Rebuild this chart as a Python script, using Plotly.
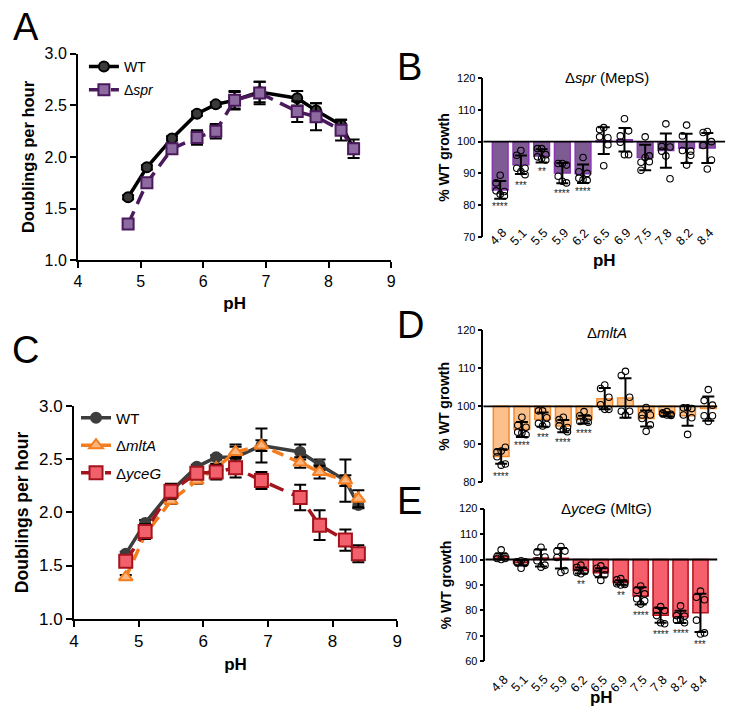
import plotly.graph_objects as go

W, H = 738, 725
FONT = "Arial, Liberation Sans, sans-serif"

PH = [4.8, 5.1, 5.5, 5.9, 6.2, 6.5, 6.9, 7.5, 7.8, 8.2, 8.4]
PH_LABELS = ["4.8", "5.1", "5.5", "5.9", "6.2", "6.5", "6.9", "7.5", "7.8", "8.2", "8.4"]

# panel A: doublings per hour
A_WT = [1.61, 1.90, 2.18, 2.42, 2.51, 2.55, 2.63, 2.57, 2.45, 2.31, 2.08]
A_WT_SD = [0.02, 0.02, 0.02, 0.02, 0.02, 0.08, 0.10, 0.07, 0.07, 0.05, 0.05]
A_SPR = [1.35, 1.75, 2.08, 2.19, 2.25, 2.55, 2.62, 2.44, 2.39, 2.26, 2.08]
A_SPR_SD = [0.03, 0.04, 0.03, 0.07, 0.07, 0.09, 0.11, 0.10, 0.13, 0.10, 0.09]

# panel C
C_WT = [1.61, 1.90, 2.20, 2.43, 2.52, 2.52, 2.63, 2.57, 2.45, 2.30, 2.07]
C_WT_SD = [0.02, 0.03, 0.03, 0.02, 0.02, 0.12, 0.16, 0.07, 0.05, 0.20, 0.03]
C_MLTA = [1.39, 1.79, 2.11, 2.30, 2.42, 2.57, 2.63, 2.47, 2.38, 2.30, 2.13]
C_MLTA_SD = [0.02, 0.03, 0.03, 0.03, 0.04, 0.05, 0.05, 0.05, 0.06, 0.05, 0.08]
C_YCEG = [1.54, 1.82, 2.20, 2.37, 2.38, 2.42, 2.30, 2.14, 1.88, 1.74, 1.61]
C_YCEG_SD = [0.03, 0.07, 0.07, 0.04, 0.07, 0.09, 0.08, 0.12, 0.14, 0.10, 0.08]

# panel B: % WT growth, delta spr
B_MEAN = [84.8, 92.7, 95.5, 90.1, 89.9, 100.3, 100.6, 95.0, 97.2, 97.9, 98.0]
B_SD = [2.8, 2.9, 2.1, 3.2, 2.9, 4.2, 3.7, 4.0, 5.4, 4.6, 4.7]
B_PTS = [
    [89.4, 87.0, 84.3, 84.5, 82.9, 83.4],
    [97.2, 95.7, 91.6, 91.6, 89.6, 90.6],
    [97.8, 97.8, 95.9, 95.2, 94.2, 94.7],
    [93.1, 93.1, 92.6, 89.1, 87.0, 87.5],
    [95.0, 90.5, 90.0, 88.5, 87.8, 88.0],
    [104.4, 103.8, 101.2, 101.5, 99.0, 92.4],
    [107.2, 101.8, 103.4, 99.8, 95.9, 95.9],
    [101.5, 93.5, 93.7, 91.0, 95.5, 95.0],
    [105.6, 98.5, 98.3, 97.0, 88.3, 95.5],
    [105.2, 101.8, 97.0, 97.2, 95.7, 92.6],
    [103.2, 102.9, 100.0, 98.8, 94.2, 91.4],
]
B_STARS = ["****", "***", "**", "****", "****", "", "", "", "", "", ""]

# panel D: delta mltA
D_MEAN = [86.8, 93.9, 96.5, 94.8, 96.5, 102.0, 102.2, 96.8, 97.9, 97.5, 99.4]
D_SD = [1.9, 2.0, 1.9, 1.6, 1.0, 2.8, 5.2, 2.1, 0.5, 2.6, 3.2]
D_PTS = [
    [88.2, 88.0, 89.2, 86.7, 84.8, 84.5],
    [97.1, 95.0, 94.5, 93.2, 92.5, 93.0],
    [98.8, 98.8, 97.0, 95.5, 95.2, 94.8],
    [97.1, 96.5, 94.4, 94.8, 93.3, 93.9],
    [98.6, 97.5, 96.9, 96.0, 95.8, 96.2],
    [105.6, 104.7, 102.4, 100.4, 99.2, 99.2],
    [109.2, 108.1, 102.4, 98.7, 98.7, 97.7],
    [99.7, 97.7, 97.7, 96.8, 95.1, 93.4],
    [98.6, 98.3, 97.9, 98.0, 97.6, 97.7],
    [99.6, 99.6, 99.4, 97.7, 97.0, 92.6],
    [104.4, 101.5, 100.3, 97.5, 97.5, 96.0],
]
D_STARS = ["****", "****", "***", "****", "****", "", "", "", "", "", ""]

# panel E: delta yceG
E_MEAN = [101.2, 98.7, 100.6, 100.5, 95.7, 94.8, 91.0, 85.7, 78.1, 77.5, 79.1]
E_SD = [1.2, 1.0, 3.3, 4.0, 1.2, 1.8, 0.9, 3.4, 2.9, 2.4, 7.5]
E_PTS = [
    [103.8, 101.3, 101.3, 100.4, 100.4, 100.0],
    [99.5, 99.1, 99.1, 98.7, 98.5, 96.6],
    [104.8, 103.0, 101.0, 99.5, 97.8, 97.0],
    [105.1, 103.3, 103.3, 100.8, 95.7, 94.9],
    [97.8, 96.9, 95.3, 94.9, 95.3, 94.4],
    [97.5, 96.6, 95.9, 94.6, 94.0, 91.8],
    [92.5, 92.0, 90.8, 90.5, 90.2, 90.0],
    [89.6, 87.9, 86.5, 84.6, 83.8, 82.5],
    [81.5, 80.2, 80.0, 78.0, 74.8, 75.2],
    [81.8, 78.0, 77.8, 76.2, 75.2, 76.5],
    [87.6, 85.2, 84.2, 76.2, 71.2, 70.8],
]
E_STARS = ["", "", "", "", "**", "", "**", "****", "****", "****", "***"]

JITTER = [0.0, -0.2, 0.2, -0.2, 0.2, 0.0]


def fx(p):
    return p / W


def fy(p):
    return 1 - p / H


fig = go.Figure()
annotations = []


def add_line(x, y, sd, name, line_color, fill, symbol, size, dash, ax, legend):
    fig.add_trace(go.Scatter(
        x=x, y=y, name=name, mode="lines+markers",
        line=dict(color=line_color, width=3.5, dash=dash),
        marker=dict(symbol=symbol, size=size, color=fill, line=dict(color=line_color, width=2)),
        error_y=dict(type="data", array=sd, color="black", thickness=2, width=6),
        xaxis="x" + ax, yaxis="y" + ax, legend=legend, legendgroup=name,
    ))


add_line(PH, A_WT, A_WT_SD, "WT", "black", "#3a3a3a", "circle", 10, "solid", "", "legend")
add_line(PH, A_SPR, A_SPR_SD, "Δ<i>spr</i>", "#4a1a5c", "#8d6aa0", "square", 11, "14px,8px", "", "legend")

add_line(PH, C_WT, C_WT_SD, "WT", "#3d3d3d", "#3d3d3d", "circle", 10, "solid", "3", "legend2")
add_line(PH, C_MLTA, C_MLTA_SD, "Δ<i>mltA</i>", "#f47d20", "#fbb57e", "triangle-up", 12, "12px,7px", "3", "legend2")
add_line(PH, C_YCEG, C_YCEG_SD, "Δ<i>yceG</i>", "#a3141c", "#f2606b", "square", 13, "15px,9px", "3", "legend2")


def add_bars(mean, sd, pts, stars, fill, edge, ax, label_y=None):
    idx = list(range(len(PH_LABELS)))
    fig.add_trace(go.Bar(
        x=idx, y=[m - 100 for m in mean], base=100, width=0.76,
        marker=dict(color=fill, line=dict(color=edge, width=1.5)),
        xaxis="x" + ax, yaxis="y" + ax, showlegend=False,
    ))
    xs, ys = [], []
    for i, row in enumerate(pts):
        for j, v in enumerate(row):
            xs.append(i + JITTER[j])
            ys.append(v)
    fig.add_trace(go.Scatter(
        x=xs, y=ys, mode="markers",
        marker=dict(symbol="circle-open", size=6.5, color="black", line=dict(width=1.1)),
        xaxis="x" + ax, yaxis="y" + ax, showlegend=False,
    ))
    fig.add_trace(go.Scatter(
        x=idx, y=mean, mode="markers", marker=dict(size=1, color="rgba(0,0,0,0)"),
        error_y=dict(type="data", array=sd, color="black", thickness=2, width=6),
        xaxis="x" + ax, yaxis="y" + ax, showlegend=False,
    ))
    for i, s in enumerate(stars):
        if s:
            annotations.append(dict(
                x=i, y=min(pts[i]), xref="x" + ax, yref="y" + ax, text=s, showarrow=False,
                yshift=-11, font=dict(size=10, color="#222"),
            ))
    if label_y is not None:
        # rotated pH tick labels
        for i, lab in enumerate(PH_LABELS):
            annotations.append(dict(
                x=i - 0.1, y=fy(label_y), xref="x" + ax, yref="paper", text=lab, showarrow=False,
                textangle=-45, xanchor="center", yanchor="middle", font=dict(size=12.5),
            ))
    fig.add_shape(type="line", xref="x" + ax + " domain", yref="y" + ax,
                  x0=0, x1=1, y0=100, y1=100, line=dict(color="black", width=1.8), layer="above")


add_bars(B_MEAN, B_SD, B_PTS, B_STARS, "#7e5b93", "#8a35b5", "2", label_y=234.5)
add_bars(D_MEAN, D_SD, D_PTS, D_STARS, "#fcc08a", "#f58a2c", "4")
add_bars(E_MEAN, E_SD, E_PTS, E_STARS, "#f5606c", "#b3101d", "5", label_y=693)

axis_common = dict(showgrid=False, zeroline=False, showline=True, linecolor="black",
                   ticks="outside", tickcolor="black")

line_x = dict(axis_common, range=[4, 9], dtick=1, linewidth=2, tickwidth=2, ticklen=6,
              title=dict(text="<b>pH</b>", font=dict(size=17), standoff=8))
line_y = dict(axis_common, range=[1, 3], dtick=0.5, tickformat=".1f", linewidth=2, tickwidth=2, ticklen=6)

bar_y = dict(axis_common, dtick=10, linewidth=1.5, tickwidth=1.5, ticklen=4, tickfont=dict(size=11),
             title=dict(text="<b>% WT growth</b>", font=dict(size=14), standoff=4))
bar_x = dict(showgrid=False, zeroline=False, showline=False, ticks="", showticklabels=False)

fig.update_layout(
    width=W, height=H, margin=dict(l=0, r=0, t=0, b=0),
    paper_bgcolor="white", plot_bgcolor="white",
    font=dict(family=FONT, color="black"),
    barmode="overlay",
    xaxis=dict(line_x, domain=[fx(74), fx(391.5)], anchor="y", tickfont=dict(size=16)),
    yaxis=dict(line_y, domain=[fy(258), fy(46)], anchor="x", tickfont=dict(size=16),
               title=dict(text="<b>Doublings per hour</b>", font=dict(size=16.5), standoff=6)),
    xaxis3=dict(line_x, domain=[fx(70), fx(397.5)], anchor="y3", tickfont=dict(size=17)),
    yaxis3=dict(line_y, domain=[fy(626), fy(408)], anchor="x3", tickfont=dict(size=17),
                title=dict(text="<b>Doublings per hour</b>", font=dict(size=17.5), standoff=6)),
    xaxis2=dict(bar_x, domain=[fx(485), fx(730)], range=[-0.81, 10.86], anchor="y2",
                title=dict(text="<b>pH</b>", font=dict(size=17), standoff=17)),
    yaxis2=dict(bar_y, domain=[fy(234), fy(71)], range=[70, 120], anchor="x2"),
    xaxis4=dict(bar_x, domain=[fx(485), fx(722)], range=[-0.857, 10.43], anchor="y4"),
    yaxis4=dict(bar_y, domain=[fy(486), fy(330)], range=[80, 120], anchor="x4"),
    xaxis5=dict(bar_x, domain=[fx(487), fx(722)], range=[-0.79, 10.84], anchor="y5",
                title=dict(text="<b>pH</b>", font=dict(size=17), standoff=29)),
    yaxis5=dict(bar_y, domain=[fy(670), fy(513)], range=[60, 120], anchor="x5"),
    legend=dict(x=fx(80), y=fy(43), xanchor="left", yanchor="top", bgcolor="rgba(0,0,0,0)",
                font=dict(size=14), traceorder="grouped", tracegroupgap=2),
    legend2=dict(x=fx(72), y=fy(403), xanchor="left", yanchor="top", bgcolor="rgba(0,0,0,0)",
                 font=dict(size=15), traceorder="grouped", tracegroupgap=5),
)

for label, (x, y) in {"A": (21, 18), "B": (410, 60), "C": (21, 350), "D": (411, 324), "E": (410, 505)}.items():
    annotations.append(dict(x=fx(x), y=fy(y), xref="paper", yref="paper", text=label, showarrow=False,
                            xanchor="center", yanchor="middle", font=dict(size=38)))

for text, (x, y) in {"Δ<i>spr</i> (MepS)": (610, 70), "Δ<i>mltA</i>": (610, 332),
                     "Δ<i>yceG</i> (MltG)": (610, 513)}.items():
    annotations.append(dict(x=fx(x), y=fy(y), xref="paper", yref="paper", text=text, showarrow=False,
                            xanchor="center", yanchor="middle", font=dict(size=15)))

fig.update_layout(annotations=annotations)
fig.write_html("out.html", config={"displayModeBar": False},
               post_script="document.body.style.margin='0';")
